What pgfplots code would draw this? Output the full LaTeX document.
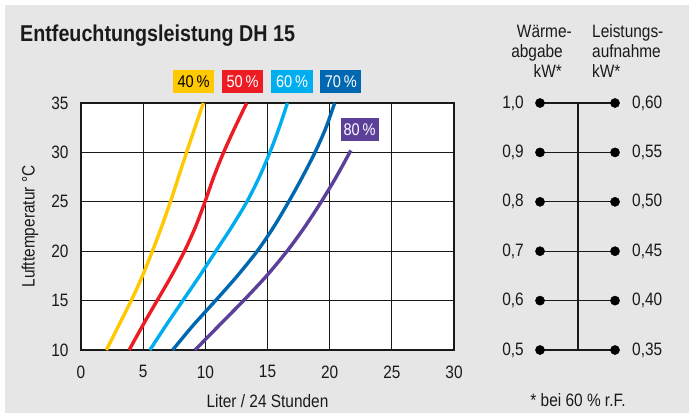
\documentclass[border=0pt]{standalone}
\usepackage{fontspec}
\setmainfont[FakeStretch=0.86]{Liberation Sans}
\usepackage{pgfplots}
\pgfplotsset{compat=1.18}
\definecolor{bg}{HTML}{E6E6E6}
\definecolor{txt}{HTML}{1A1A1A}
\definecolor{c40}{HTML}{FFC800}
\definecolor{c50}{HTML}{ED1C24}
\definecolor{c60}{HTML}{00AEEF}
\definecolor{c70}{HTML}{0067B1}
\definecolor{c80}{HTML}{5B3F98}
\begin{document}
\begin{tikzpicture}[x=1bp,y=1bp]
\fill[white] (0,0) rectangle (693,-416);
\fill[bg] (5,-5) rectangle (689,-413);
\node[anchor=base west,inner sep=0,text=txt,font=\bfseries\fontsize{23}{25}\selectfont] at (20,-41) {Entfeuchtungsleistung DH 15};
\begin{axis}[at={(81bp,-350bp)}, anchor=south west, width=373bp, height=247bp, scale only axis,
  xmin=0, xmax=30, ymin=10, ymax=35,
  xtick={0,5,...,30}, ytick={10,15,...,35},
  grid=major, major grid style={black!90, line width=1.1bp},
  axis line style={black!90, line width=1.3bp},
  axis background/.style={fill=white},
  tick style={draw=none},
  ticklabel style={font=\fontsize{18}{20}\selectfont, text=txt},
  /pgf/number format/assume math mode=true,
  xticklabel style={yshift=-12bp},
  yticklabel style={xshift=-9bp},
  xlabel={Liter / 24 Stunden}, ylabel={Lufttemperatur °C},
  every axis x label/.style={at={(axis description cs:0.5,-0.2065)}, anchor=center},
  every axis y label/.style={at={(axis description cs:-0.137,0.5)}, rotate=90, anchor=center},
  label style={font=\fontsize{18}{20}\selectfont, text=txt},
  clip=false]
\addplot[c40, line width=3.4bp, smooth] coordinates {(2.04,10)(3.04,12.5)(4.04,15)(4.94,17.5)(5.74,20)(6.49,22.5)(7.19,25)(7.84,27.5)(8.49,30)(9.16,32.5)(9.84,35)};
\addplot[c50, line width=3.4bp, smooth] coordinates {(3.87,10)(4.97,12.5)(6.12,15)(7.27,17.5)(8.32,20)(9.22,22.5)(9.97,25)(10.67,27.5)(11.47,30)(12.37,32.5)(13.33,35)};
\addplot[c60, line width=3.4bp, smooth] coordinates {(5.54,10)(6.84,12.5)(8.19,15)(9.54,17.5)(10.84,20)(12.14,22.5)(13.34,25)(14.34,27.5)(15.19,30)(15.94,32.5)(16.6,35)};
\addplot[c70, line width=3.4bp, smooth] coordinates {(7.37,10)(9.02,12.5)(10.82,15)(12.57,17.5)(14.17,20)(15.52,22.5)(16.7,25)(17.8,27.5)(18.82,30)(19.7,32.5)(20.4,35)};
\addplot[c80, line width=3.4bp, smooth] coordinates {(9.17,10)(11.12,12.5)(13.07,15)(14.92,17.5)(16.57,20)(18.02,22.5)(19.32,25)(20.52,27.5)(21.7,30.2)};
\tikzset{lbl/.style={inner sep=0, minimum width=41bp, minimum height=23bp, font=\fontsize{17}{19}\selectfont}}
\node[lbl, fill=c40, text=black] at (axis cs:9.05,37.2) {40\,\%};
\node[lbl, fill=c50, text=white] at (axis cs:13.0,37.2) {50\,\%};
\node[lbl, fill=c60, text=white] at (axis cs:16.97,37.2) {60\,\%};
\node[lbl, fill=c70, text=white] at (axis cs:20.9,37.2) {70\,\%};
\node[lbl, fill=c80, text=white, minimum width=38bp] at (axis cs:22.4,32.3) {80\,\%};
\end{axis}
\begin{axis}[at={(530bp,-350bp)}, anchor=south west, width=95bp, height=247bp, scale only axis,
  xmin=530, xmax=625, ymin=10, ymax=35, axis lines=none, clip=false, unbounded coords=jump]
\addplot[black!90, line width=1.3bp] coordinates {(578,10)(578,35)};
\addplot[black!90, line width=1.3bp] coordinates {(540,10)(615,10)(nan,nan)(540,15)(615,15)(nan,nan)(540,20)(615,20)(nan,nan)(540,25)(615,25)(nan,nan)(540,30)(615,30)(nan,nan)(540,35)(615,35)};
\addplot[only marks, mark=*, mark size=4.6bp, black] coordinates {(540,10)(540,15)(540,20)(540,25)(540,30)(540,35)(615,10)(615,15)(615,20)(615,25)(615,30)(615,35)};
\tikzset{sl/.style={inner sep=0, font=\fontsize{18}{20}\selectfont, text=txt}}
\node[sl, anchor=east] at (axis cs:524,35) {1,0};
\node[sl, anchor=east] at (axis cs:524,30) {0,9};
\node[sl, anchor=east] at (axis cs:524,25) {0,8};
\node[sl, anchor=east] at (axis cs:524,20) {0,7};
\node[sl, anchor=east] at (axis cs:524,15) {0,6};
\node[sl, anchor=east] at (axis cs:524,10) {0,5};
\node[sl, anchor=west] at (axis cs:632,35) {0,60};
\node[sl, anchor=west] at (axis cs:632,30) {0,55};
\node[sl, anchor=west] at (axis cs:632,25) {0,50};
\node[sl, anchor=west] at (axis cs:632,20) {0,45};
\node[sl, anchor=west] at (axis cs:632,15) {0,40};
\node[sl, anchor=west] at (axis cs:632,10) {0,35};
\end{axis}
\tikzset{hd/.style={inner sep=0, font=\fontsize{18}{20}\selectfont, text=txt}}
\node[hd, anchor=base east] at (572,-37) {Wärme-};
\node[hd, anchor=base east] at (563,-57) {abgabe};
\node[hd, anchor=base east] at (562,-77) {kW*};
\node[hd, anchor=base west] at (592,-37) {Leistungs-};
\node[hd, anchor=base west] at (592,-57) {aufnahme};
\node[hd, anchor=base west] at (592,-77) {kW*};
\node[hd, anchor=base] at (578,-406) {* bei 60 \% r.F.};
\end{tikzpicture}
\end{document}
